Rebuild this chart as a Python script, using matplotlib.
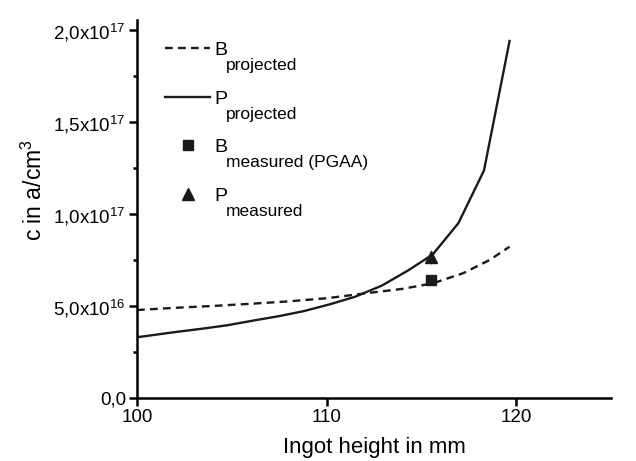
import matplotlib.pyplot as plt
import numpy as np

plt.rcParams['font.family'] = ['Liberation Sans', 'DejaVu Sans']
plt.rcParams['mathtext.fontset'] = 'custom'
plt.rcParams['mathtext.rm'] = 'Liberation Sans'

# 数据
x_p = [100.0, 102.0, 103.4, 104.75, 106.1, 107.5, 108.8, 110.2, 111.5, 112.9, 114.25, 115.6, 116.95, 118.3, 119.65]
y_p = [3.30e16, 3.58e16, 3.76e16, 3.95e16, 4.20e16, 4.45e16, 4.72e16, 5.10e16, 5.50e16, 6.10e16, 6.90e16, 7.80e16, 9.50e16, 1.236e17, 1.94e17]

x_b = [100.0, 102.0, 104.0, 106.0, 108.0, 110.0, 112.0, 114.0, 115.6, 117.2, 118.6, 119.65]
y_b = [4.78e16, 4.90e16, 5.00e16, 5.12e16, 5.25e16, 5.42e16, 5.68e16, 5.93e16, 6.23e16, 6.78e16, 7.50e16, 8.22e16]

x_meas = [115.5]
y_b_meas = [6.41e16]
y_p_meas = [7.66e16]
y_p_err = [0.4e16]

yticks = [0, 5e16, 1e17, 1.5e17, 2e17]
ytick_labels = ['0,0', r'5,0x10$^{\mathregular{16}}$', r'1,0x10$^{\mathregular{17}}$',
                r'1,5x10$^{\mathregular{17}}$', r'2,0x10$^{\mathregular{17}}$']
xticks = [100, 110, 120]

fig = plt.figure(figsize=(6.36, 4.61), dpi=100)
ax = fig.add_axes([0.2154, 0.1367, 0.7453, 0.8199])

l1, = ax.plot(x_b, y_b, c='#1a1a1a', lw=1.7, ls=(0, (3.3, 2.2)))
l2, = ax.plot(x_p, y_p, c='#1a1a1a', lw=1.7)
ax.errorbar(x_meas, y_p_meas, yerr=y_p_err, fmt='none', ecolor='#888888', elinewidth=0.8, capsize=0)
l3, = ax.plot(x_meas, y_b_meas, 's', c='#1a1a1a', ms=7, ls='none')
l4, = ax.plot(x_meas, y_p_meas, '^', c='#1a1a1a', ms=9, ls='none')

ax.set_xlim(100, 125)
ax.set_ylim(0, 2.054e17)
ax.set_xticks(xticks)
ax.set_xticklabels([str(t) for t in xticks])
ax.set_yticks(yticks)
ax.set_yticklabels(ytick_labels)
ax.set_yticks([2.5e16, 7.5e16, 1.25e17, 1.75e17], minor=True)

ax.spines['right'].set_color('none')
ax.spines['top'].set_color('none')
ax.spines['left'].set_linewidth(1.8)
ax.spines['bottom'].set_linewidth(1.8)
ax.tick_params(which='major', direction='out', length=6, width=1.8, labelsize=13.5, pad=2)
ax.tick_params(which='minor', direction='out', length=3, width=1.8)

ax.set_xlabel('Ingot height in mm', fontsize=16, labelpad=8)
ax.set_ylabel(r'c in a/cm$^{\mathregular{3}}$', fontsize=16.5)
ax.yaxis.set_label_coords(-0.19, 0.55)

leg = ax.legend([l1, l2, l3, l4], ['B', 'P', 'B', 'P'], loc='upper left',
                bbox_to_anchor=(0.059, 0.944), frameon=False, fontsize=14,
                handlelength=2.32, handletextpad=0.2, labelspacing=1.6,
                borderpad=0, borderaxespad=0)

# 图例下标
subs = ['projected', 'projected', 'measured (PGAA)', 'measured']
for t, s in zip(leg.get_texts(), subs):
    ax.annotate(s, xy=(1, 0), xycoords=t, xytext=(-1, -8), textcoords='offset points',
                va='baseline', ha='left', fontsize=12.5, zorder=10)

fig.savefig('out.png', dpi=100)
